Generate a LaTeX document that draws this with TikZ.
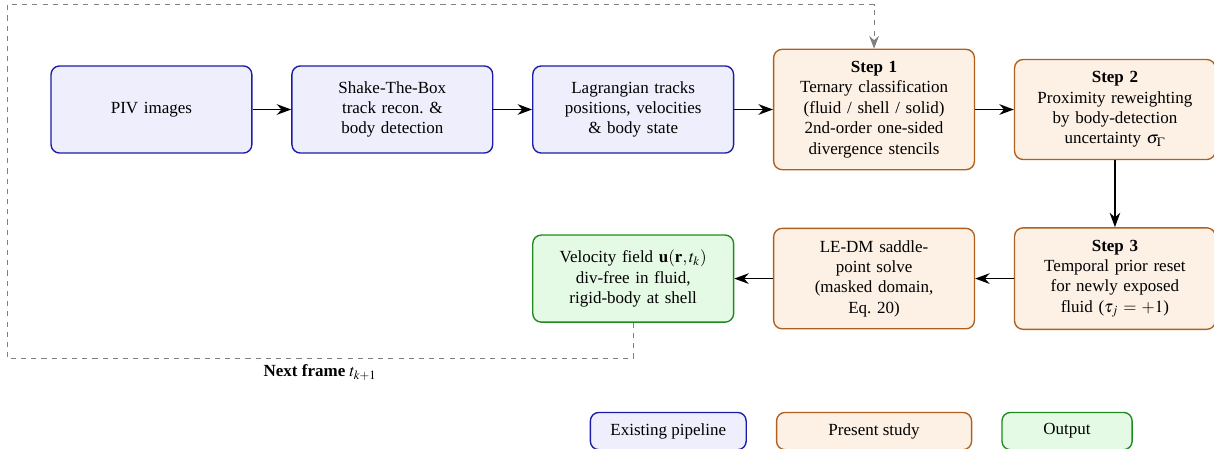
\documentclass[tikz,border=0pt]{standalone}
\usepackage{mathptmx}
\usepackage[no-math]{fontspec}
\setmainfont{Liberation Serif}
\usepackage{xcolor}
\usepackage{tikz}
\usepackage{amsmath}
\usetikzlibrary{shapes,arrows.meta,positioning,calc}
\definecolor{pipeedge}{HTML}{1C1CA6}
\definecolor{pipefill}{HTML}{EEEEFC}
\definecolor{studyedge}{HTML}{B0601E}
\definecolor{studyfill}{HTML}{FDF0E4}
\definecolor{outedge}{HTML}{1F8A1F}
\definecolor{outfill}{HTML}{E4FAE4}
\tikzstyle{box} = [rectangle, thick, rounded corners=5pt, text width=3.6cm,
    align=center, minimum width=4.15cm, minimum height=1.8cm, inner sep=7pt]
\tikzstyle{pipe} = [box, draw=pipeedge, fill=pipefill]
\tikzstyle{study} = [box, draw=studyedge, fill=studyfill]
\tikzstyle{result} = [box, draw=outedge, fill=outfill]
\tikzstyle{legend} = [rectangle, thick, rounded corners=5pt,
    minimum height=0.77cm, align=center]
\tikzstyle{arrow} = [-{Stealth[length=3mm,width=2.2mm]}, thick, black]
\tikzstyle{feedback} = [-{Stealth[length=2.6mm,width=2mm]}, semithick, dashed, gray]

\begin{document}
\begin{tikzpicture}[node distance=0.8cm]
\useasboundingbox (0,0) rectangle (25.09,-9.26);
\node[pipe] (p1) at (3.13,-2.263) {PIV images};
\node[pipe, right=of p1] (p2) {Shake-The-Box\\track recon.\ \&\\body detection};
\node[pipe, right=of p2] (p3) {Lagrangian tracks\\positions, velocities\\\& body state};
\node[study, right=of p3] (s1) {\textbf{Step 1}\\Ternary classification\\(fluid / shell / solid)\\2nd-order one-sided\\divergence stencils};
\node[study, right=of s1] (s2) {\textbf{Step 2}\\Proximity reweighting\\by body-detection\\uncertainty $\sigma_\Gamma$};
\node[study, below=1.385cm of s2] (s3) {\textbf{Step 3}\\Temporal prior reset\\for newly exposed\\fluid ($\tau_j=+1$)};
\node[study, left=of s3] (s4) {LE-DM saddle-\\point solve\\(masked domain,\\Eq.~20)};
\node[result, left=of s4] (v) {Velocity field $\mathbf{u}(\mathbf{r},t_k)$\\div-free in fluid,\\rigid-body at shell};

\node[legend, draw=studyedge, fill=studyfill, minimum width=4.03cm, below=1.7cm of s4] (l2) {Present study};
\node[legend, draw=pipeedge, fill=pipefill, minimum width=3.22cm, left=0.6cm of l2] (l1) {Existing pipeline};
\node[legend, draw=outedge, fill=outfill, minimum width=2.69cm, right=0.6cm of l2] (l3) {Output};

\draw[arrow] (p1) -- (p2);
\draw[arrow] (p2) -- (p3);
\draw[arrow] (p3) -- (s1);
\draw[arrow] (s1) -- (s2);
\draw[arrow] (s2) -- (s3);
\draw[arrow] (s3) -- (s4);
\draw[arrow] (s4) -- (v);

\coordinate (bl) at (0.145,-7.41);
\coordinate (tl) at (0.145,-0.103);
\draw[feedback] (v.south) |- node[pos=0.75, below, text=black] {\textbf{Next frame} $t_{k+1}$} (bl)
    -- (tl) -| (s1.north);
\end{tikzpicture}
\end{document}
